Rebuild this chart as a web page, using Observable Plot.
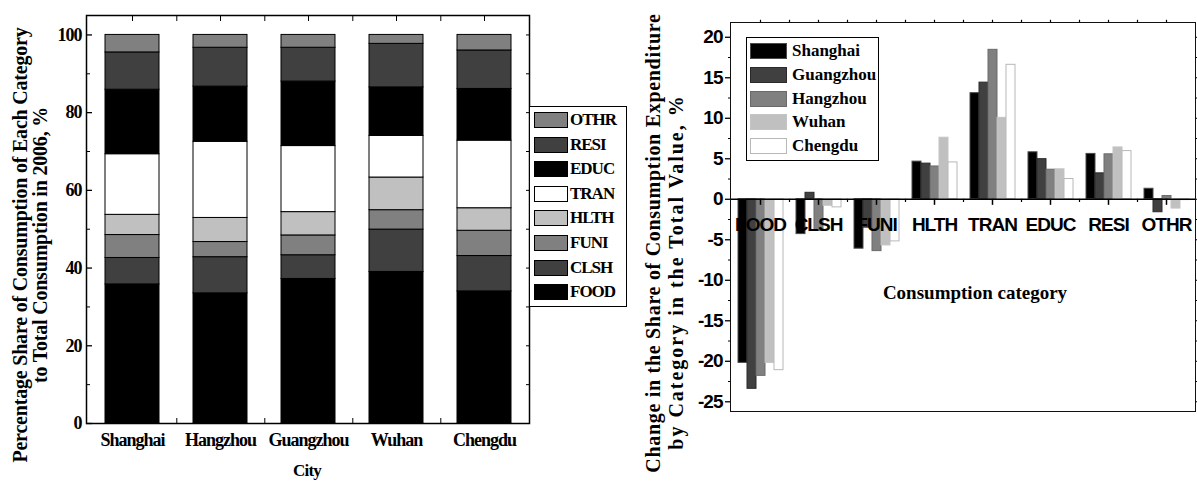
<!DOCTYPE html>
<html>
<head>
<meta charset="utf-8">
<script src="https://cdn.jsdelivr.net/npm/d3@7"></script>
<script src="https://cdn.jsdelivr.net/npm/@observablehq/plot@0.6"></script>
<style>
  html, body { margin: 0; padding: 0; background: #fff; }
  #page { position: relative; width: 1197px; height: 483px; overflow: hidden;
          font-family: "Liberation Serif", "Times New Roman", serif; font-weight: bold; color: #000; }
  .abs { position: absolute; }
  .vtitle { position: absolute; white-space: nowrap; transform: translate(-50%, -50%) rotate(-90deg); }
  .htitle { position: absolute; white-space: nowrap; transform: translate(-50%, -50%); }
  .legend { position: absolute; border: 1px solid #000; background: #fff; box-sizing: border-box; }
  .row { position: absolute; left: 0; right: 0; height: 16px; }
  .sw { position: absolute; top: 0; height: 16px; box-sizing: border-box; }
  .lab { position: absolute; top: 50%; transform: translateY(-50%); white-space: nowrap; }
</style>
</head>
<body>
<div id="page">
  <div id="leftChart" class="abs" style="left:0;top:0"></div>
  <div id="rightChart" class="abs" style="left:600px;top:0"></div>
  <div id="rightFrame" class="abs" style="left:730px;top:22px;width:466px;height:390px;border:1.5px solid #111;box-sizing:border-box;pointer-events:none"></div>
  <div class="vtitle" style="left:30px;top:245px;font-size:20px;line-height:20px;text-align:center;letter-spacing:-0.2px">Percentage Share of Consumption of Each Category<br>to Total Consumption in 2006, %</div>
  <div class="htitle" style="left:307px;top:471px;font-size:17px;letter-spacing:-0.8px">City</div>
  <div class="vtitle" style="left:653px;top:243px;font-size:20px;letter-spacing:0.7px">Change in the Share of Consumption Expenditure</div>
  <div class="vtitle" style="left:676px;top:272px;font-size:20px;letter-spacing:2px">by Category in the Total Value, %</div>
  <div class="htitle" style="left:975px;top:293px;font-size:19px">Consumption category</div>
  <div id="leftLegend" class="legend" style="left:529px;top:106px;width:98px;height:201px"></div>
  <div id="rightLegend" class="legend" style="left:746px;top:37px;width:133px;height:124px"></div>
</div>
<script>
// ---------- data ----------
const cities = ["Shanghai", "Hangzhou", "Guangzhou", "Wuhan", "Chengdu"];
const categories = ["FOOD", "CLSH", "FUNI", "HLTH", "TRAN", "EDUC", "RESI", "OTHR"];

// share of each category in total consumption, 2006 (%), order = categories
const shareShanghai  = [35.8, 6.8, 5.9, 5.2, 15.6, 16.6, 9.6, 4.5];
const shareHangzhou  = [33.5, 9.3, 3.9, 6.2, 19.6, 14.2, 10.0, 3.3];
const shareGuangzhou = [37.2, 6.1, 5.1, 6.0, 17.0, 16.6, 8.7, 3.3];
const shareWuhan     = [39.0, 10.9, 5.0, 8.4, 10.7, 12.5, 11.2, 2.3];
const shareChengdu   = [34.0, 9.1, 6.5, 5.8, 17.4, 13.3, 9.9, 4.0];

// change in share by category (%), order = categories
const changeCities    = ["Shanghai", "Guangzhou", "Hangzhou", "Wuhan", "Chengdu"];
const changeShanghai  = [-20.2, -4.3, -6.1, 4.65, 13.1, 5.8, 5.6, 1.3];
const changeGuangzhou = [-23.4, 0.8, -3.5, 4.4, 14.4, 4.95, 3.2, -1.6];
const changeHangzhou  = [-21.8, -3.9, -6.4, 4.05, 18.45, 3.65, 5.55, 0.4];
const changeWuhan     = [-20.2, -0.8, -5.7, 7.6, 10.05, 3.7, 6.4, -1.15];
const changeChengdu   = [-21.1, -1.0, -5.2, 4.55, 16.6, 2.5, 5.95, -0.1];

const yTicksLeft = [0, 20, 40, 60, 80, 100];
const yTicksRight = [-25, -20, -15, -10, -5, 0, 5, 10, 15, 20];

// ---------- styles ----------
const categoryFill = ["#000000", "#404040", "#808080", "#c0c0c0", "#ffffff", "#000000", "#404040", "#808080"];
const cityFill = ["#000000", "#404040", "#808080", "#c0c0c0", "#ffffff"];
const cityStroke = ["#4a4a4a", "#2a2a2a", "#6a6a6a", "#c4c4c4", "#b8b8b8"];

// ---------- tables ----------
const shareBy = {Shanghai: shareShanghai, Hangzhou: shareHangzhou, Guangzhou: shareGuangzhou, Wuhan: shareWuhan, Chengdu: shareChengdu};
const changeBy = {Shanghai: changeShanghai, Guangzhou: changeGuangzhou, Hangzhou: changeHangzhou, Wuhan: changeWuhan, Chengdu: changeChengdu};
const shareTable = cities.flatMap(city => categories.map((category, i) => ({city, category, value: shareBy[city][i]})));
const changeTable = changeCities.flatMap(city => categories.map((category, i) => ({city, category, value: changeBy[city][i]})));
const catFillOf = Object.fromEntries(categories.map((c, i) => [c, categoryFill[i]]));
const cityFillOf = Object.fromEntries(changeCities.map((c, i) => [c, cityFill[i]]));
const cityStrokeOf = Object.fromEntries(changeCities.map((c, i) => [c, cityStroke[i]]));

// ---------- left chart ----------
const L = {width: 540, height: 483, ml: 86, mr: 11, mt: 15, mb: 60};
const leftStep = (L.width - L.ml - L.mr) / cities.length;
const left = Plot.plot({
  width: L.width, height: L.height,
  marginLeft: L.ml, marginRight: L.mr, marginTop: L.mt, marginBottom: L.mb,
  style: {fontFamily: "'Liberation Serif', 'Times New Roman', serif", fontWeight: "bold", fontSize: "18px", letterSpacing: "-1px", color: "#000", background: "transparent", overflow: "visible"},
  x: {domain: cities, paddingInner: 0.39, paddingOuter: 0.195, label: null},
  y: {domain: [0, 105], label: null},
  marks: [
    Plot.barY(shareTable, {x: "city", y: "value", fill: d => catFillOf[d.category], stroke: "#000", strokeWidth: 1}),
    Plot.frame({stroke: "#000", strokeWidth: 1.5}),
    Plot.axisY({ticks: yTicksLeft, tickSize: 0, tickPadding: 5, fontSize: 18, tickFormat: d => String(d), label: null}),
    Plot.axisY({ticks: yTicksLeft, tickSize: 6, dx: 6, fill: "none", strokeWidth: 1.3, label: null}),
    Plot.axisY({ticks: d3.range(10, 100, 20), tickSize: 4, dx: 4, fill: "none", label: null}),
    Plot.axisY({anchor: "right", ticks: d3.range(0, 101, 10), tickSize: 4, dx: -4, fill: "none", label: null}),
    Plot.axisX({tickSize: 0, tickPadding: 10, fontSize: 18, label: null}),
    Plot.axisX({anchor: "top", tickSize: 5, dy: 5, fill: "none", label: null}),
    Plot.axisX({anchor: "top", ticks: cities.slice(0, -1), tickSize: 5, dy: 5, dx: leftStep / 2, fill: "none", label: null}),
    Plot.axisX({anchor: "bottom", ticks: cities.slice(0, -1), tickSize: 5, dy: -5, dx: leftStep / 2, fill: "none", label: null})
  ]
});
document.getElementById("leftChart").append(left);

// ---------- right chart ----------
const R = {width: 597, height: 483, ml: 131, mr: 2, mt: 23, mb: 72};
const yDomainRight = [-26.2, 21.7];
const facetStep = (R.width - R.ml - R.mr) / categories.length;
const right = Plot.plot({
  width: R.width, height: R.height,
  marginLeft: R.ml, marginRight: R.mr, marginTop: R.mt, marginBottom: R.mb,
  style: {fontFamily: "'Liberation Sans', Arial, sans-serif", fontWeight: "bold", fontSize: "19px", letterSpacing: "-1px", color: "#000", background: "transparent", overflow: "visible"},
  fx: {domain: categories, paddingInner: 0, paddingOuter: 0, axis: null, label: null},
  x: {domain: changeCities, paddingInner: 0, paddingOuter: 0.625, axis: null, label: null},
  y: {domain: yDomainRight, label: null},
  marks: [
    Plot.barY(changeTable, {fx: "category", x: "city", y: "value", fill: d => cityFillOf[d.city], stroke: d => cityStrokeOf[d.city], strokeWidth: 1}),
    Plot.ruleY([0], {stroke: "#000", strokeWidth: 1.5}),
    Plot.ruleX(categories, {fx: d => d, x: null, y1: 0, y2: -0.75, stroke: "#000", strokeWidth: 1.5}),
    Plot.ruleX(categories.slice(1), {fx: d => d, x: null, y1: 0, y2: -0.4, dx: -facetStep / 2, stroke: "#000", strokeWidth: 1.2}),
    Plot.ruleX(categories, {fx: d => d, x: null, y1: yDomainRight[1], y2: yDomainRight[1] + 0.4, stroke: "#000", strokeWidth: 1.2}),
    Plot.ruleX(categories.slice(1), {fx: d => d, x: null, y1: yDomainRight[1], y2: yDomainRight[1] + 0.4, dx: -facetStep / 2, stroke: "#000", strokeWidth: 1.2}),
    Plot.text(categories, {fx: d => d, y: 0, dy: 26, text: d => d, fontSize: 19, fill: "#000"}),
    Plot.axisY({ticks: yTicksRight, tickSize: 6, tickPadding: 3, fontSize: 19, tickFormat: d => String(d), strokeWidth: 1.3, label: null}),
    Plot.axisY({ticks: d3.range(-22.5, 20, 5), tickSize: 3, fill: "none", label: null}),
    Plot.axisY({anchor: "right", ticks: d3.range(-25, 21, 2.5), tickSize: 3, fill: "none", label: null})
  ]
});
document.getElementById("rightChart").append(right);

// ---------- legends ----------
function buildLegend(el, names, fills, strokes, opts) {
  names.forEach((name, i) => {
    const row = document.createElement("div");
    row.className = "row";
    row.style.top = (opts.top + i * opts.step) + "px";
    const sw = document.createElement("div");
    sw.className = "sw";
    sw.style.left = opts.swLeft + "px";
    sw.style.width = opts.swWidth + "px";
    sw.style.background = fills[i];
    sw.style.border = "1px solid " + strokes[i];
    const lab = document.createElement("div");
    lab.className = "lab";
    lab.style.left = opts.labLeft + "px";
    lab.style.fontSize = opts.fontSize + "px";
    lab.style.letterSpacing = opts.ls + "px";
    lab.textContent = name;
    row.append(sw, lab);
    el.append(row);
  });
}
const leftNames = categories.slice().reverse();
buildLegend(document.getElementById("leftLegend"), leftNames,
  leftNames.map(n => catFillOf[n]), leftNames.map(() => "#000"),
  {top: 5, step: 24.6, swLeft: 4, swWidth: 34, labLeft: 40, fontSize: 17, ls: -1});
buildLegend(document.getElementById("rightLegend"), changeCities,
  changeCities.map(n => cityFillOf[n]), changeCities.map(n => cityStrokeOf[n]),
  {top: 5, step: 23.8, swLeft: 3, swWidth: 37, labLeft: 45, fontSize: 17, ls: 0});
</script>
</body>
</html>
